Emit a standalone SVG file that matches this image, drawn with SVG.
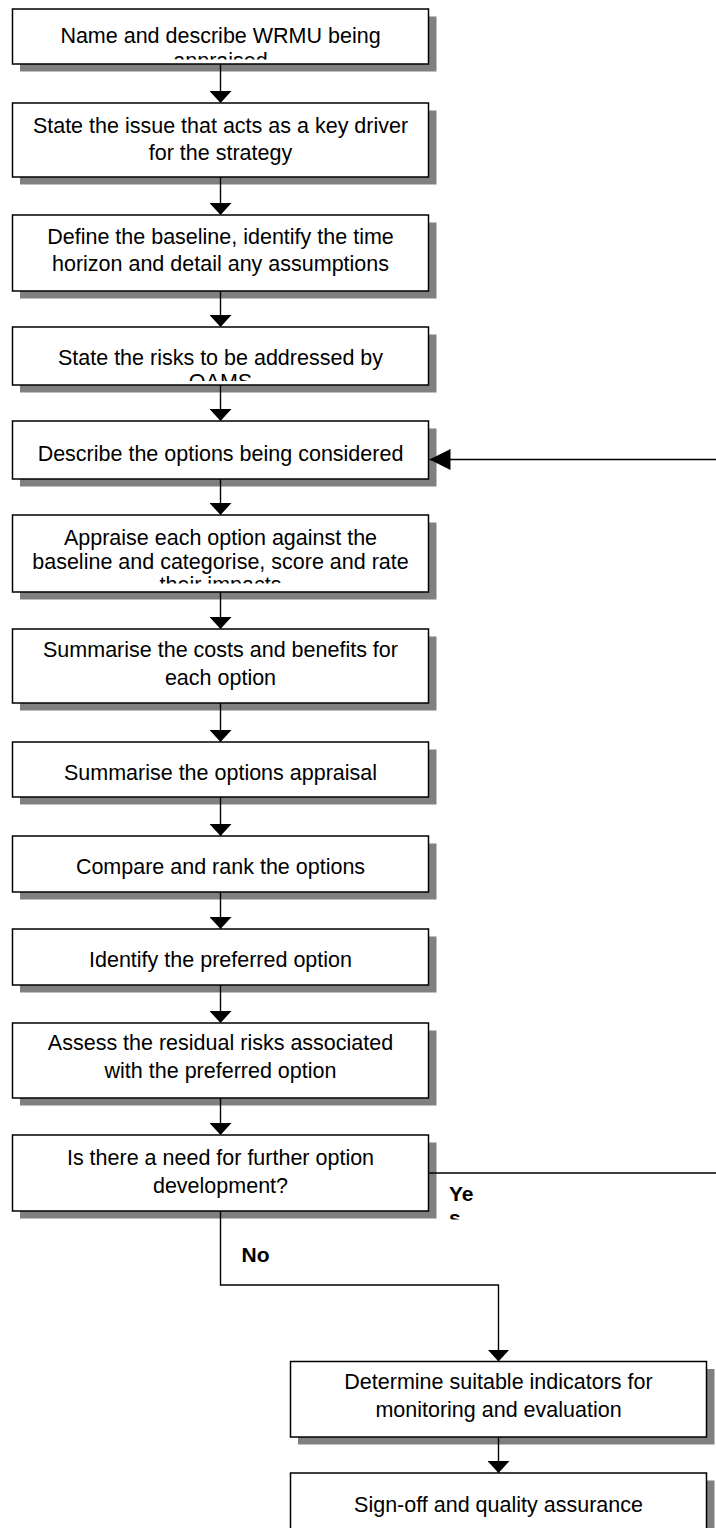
<svg xmlns="http://www.w3.org/2000/svg" width="716" height="1528" viewBox="0 0 716 1528">
  <style>
    .shadow { fill: #808080; }
    .box { fill: #ffffff; stroke: #000000; stroke-width: 1.5; }
    .t { font-family: "Liberation Sans", Arial, sans-serif; font-size: 21.5px; fill: #000000; text-anchor: middle; }
    .lbl { font-family: "Liberation Sans", Arial, sans-serif; font-size: 21px; font-weight: bold; fill: #000000; }
    .line { fill: none; stroke: #000000; stroke-width: 1.4; }
  </style>
  <defs>
    <marker id="arrow" viewBox="0 0 12 22" refX="12" refY="11" markerWidth="12" markerHeight="22" markerUnits="userSpaceOnUse" orient="auto">
      <path d="M0,0 L12,11 L0,22 Z" fill="#000000"/>
    </marker>
    <marker id="arrowWide" viewBox="0 0 21 21" refX="21" refY="10.5" markerWidth="21" markerHeight="21" markerUnits="userSpaceOnUse" orient="auto">
      <path d="M0,0 L21,10.5 L0,21 Z" fill="#000000"/>
    </marker>
    <clipPath id="clip-n1"><rect x="12" y="9" width="417" height="50.5"/></clipPath>
    <clipPath id="clip-n4"><rect x="12" y="327" width="417" height="54"/></clipPath>
    <clipPath id="clip-n6"><rect x="12" y="515" width="417" height="68.5"/></clipPath>
    <clipPath id="clip-yes"><rect x="440" y="1176" width="60" height="43.5"/></clipPath>
  </defs>

  <!-- process steps -->
  <g id="n1">
    <rect class="shadow" x="20" y="16.5" width="416.5" height="55"/>
    <rect class="box" x="12.5" y="9" width="416" height="55"/>
    <g clip-path="url(#clip-n1)">
      <text class="t" x="220.5" y="43">Name and describe WRMU being</text>
      <text class="t" x="220.5" y="68">appraised</text>
    </g>
  </g>
  <g id="n2">
    <rect class="shadow" x="20" y="110.5" width="416.5" height="74"/>
    <rect class="box" x="12.5" y="103" width="416" height="74"/>
    <text class="t" x="220.5" y="133">State the issue that acts as a key driver</text>
    <text class="t" x="220.5" y="160">for the strategy</text>
  </g>
  <g id="n3">
    <rect class="shadow" x="20" y="222.5" width="416.5" height="76"/>
    <rect class="box" x="12.5" y="215" width="416" height="76"/>
    <text class="t" x="220.5" y="243.5">Define the baseline, identify the time</text>
    <text class="t" x="220.5" y="271">horizon and detail any assumptions</text>
  </g>
  <g id="n4">
    <rect class="shadow" x="20" y="334.5" width="416.5" height="58"/>
    <rect class="box" x="12.5" y="327" width="416" height="58"/>
    <g clip-path="url(#clip-n4)">
      <text class="t" x="220.5" y="365">State the risks to be addressed by</text>
      <text class="t" x="220.5" y="389">OAMS</text>
    </g>
  </g>
  <g id="n5">
    <rect class="shadow" x="20" y="428.5" width="416.5" height="58"/>
    <rect class="box" x="12.5" y="421" width="416" height="58"/>
    <text class="t" x="220.5" y="461">Describe the options being considered</text>
  </g>
  <g id="n6">
    <rect class="shadow" x="20" y="522.5" width="416.5" height="77"/>
    <rect class="box" x="12.5" y="515" width="416" height="77"/>
    <g clip-path="url(#clip-n6)">
      <text class="t" x="220.5" y="545">Appraise each option against the</text>
      <text class="t" x="220.5" y="568.5">baseline and categorise, score and rate</text>
      <text class="t" x="220.5" y="592">their impacts</text>
    </g>
  </g>
  <g id="n7">
    <rect class="shadow" x="20" y="636.5" width="416.5" height="74"/>
    <rect class="box" x="12.5" y="629" width="416" height="74"/>
    <text class="t" x="220.5" y="657">Summarise the costs and benefits for</text>
    <text class="t" x="220.5" y="685">each option</text>
  </g>
  <g id="n8">
    <rect class="shadow" x="20" y="749.5" width="416.5" height="55"/>
    <rect class="box" x="12.5" y="742" width="416" height="55"/>
    <text class="t" x="220.5" y="780">Summarise the options appraisal</text>
  </g>
  <g id="n9">
    <rect class="shadow" x="20" y="843.5" width="416.5" height="56"/>
    <rect class="box" x="12.5" y="836" width="416" height="56"/>
    <text class="t" x="220.5" y="873.5">Compare and rank the options</text>
  </g>
  <g id="n10">
    <rect class="shadow" x="20" y="936.5" width="416.5" height="56"/>
    <rect class="box" x="12.5" y="929" width="416" height="56"/>
    <text class="t" x="220.5" y="966.5">Identify the preferred option</text>
  </g>
  <g id="n11">
    <rect class="shadow" x="20" y="1030.5" width="416.5" height="75"/>
    <rect class="box" x="12.5" y="1023" width="416" height="75"/>
    <text class="t" x="220.5" y="1050">Assess the residual risks associated</text>
    <text class="t" x="220.5" y="1078">with the preferred option</text>
  </g>
  <g id="n12">
    <rect class="shadow" x="20" y="1142.5" width="416.5" height="76"/>
    <rect class="box" x="12.5" y="1135" width="416" height="76"/>
    <text class="t" x="220.5" y="1165">Is there a need for further option</text>
    <text class="t" x="220.5" y="1193">development?</text>
  </g>
  <g id="n13">
    <rect class="shadow" x="298" y="1369" width="416.5" height="75.5"/>
    <rect class="box" x="290.5" y="1361.5" width="416" height="75.5"/>
    <text class="t" x="498.5" y="1389">Determine suitable indicators for</text>
    <text class="t" x="498.5" y="1417">monitoring and evaluation</text>
  </g>
  <g id="n14">
    <rect class="shadow" x="298" y="1480.5" width="416.5" height="56"/>
    <rect class="box" x="290.5" y="1473" width="416" height="56"/>
    <text class="t" x="498.5" y="1511.5">Sign-off and quality assurance</text>
  </g>

  <!-- flow connectors -->
  <g id="connectors">
    <path class="line" d="M220.5,64 V103" marker-end="url(#arrow)"/>
    <path class="line" d="M220.5,177 V215" marker-end="url(#arrow)"/>
    <path class="line" d="M220.5,291 V327" marker-end="url(#arrow)"/>
    <path class="line" d="M220.5,385 V421" marker-end="url(#arrow)"/>
    <path class="line" d="M220.5,479 V515" marker-end="url(#arrow)"/>
    <path class="line" d="M220.5,592 V629" marker-end="url(#arrow)"/>
    <path class="line" d="M220.5,703 V742" marker-end="url(#arrow)"/>
    <path class="line" d="M220.5,797 V836" marker-end="url(#arrow)"/>
    <path class="line" d="M220.5,892 V929" marker-end="url(#arrow)"/>
    <path class="line" d="M220.5,985 V1023" marker-end="url(#arrow)"/>
    <path class="line" d="M220.5,1098 V1135" marker-end="url(#arrow)"/>
    <path class="line" d="M220.5,1211 V1285 H498.5 V1361.5" marker-end="url(#arrow)"/>
    <path class="line" d="M498.5,1437 V1473" marker-end="url(#arrow)"/>
    <path class="line" d="M428.5,1173 H724 V459.5 H429.5" marker-end="url(#arrowWide)"/>
    <g clip-path="url(#clip-yes)">
      <text class="lbl" x="449" y="1201">Ye</text>
      <text class="lbl" x="449" y="1225">s</text>
    </g>
    <text class="lbl" x="241.5" y="1261.5">No</text>
  </g>
</svg>
